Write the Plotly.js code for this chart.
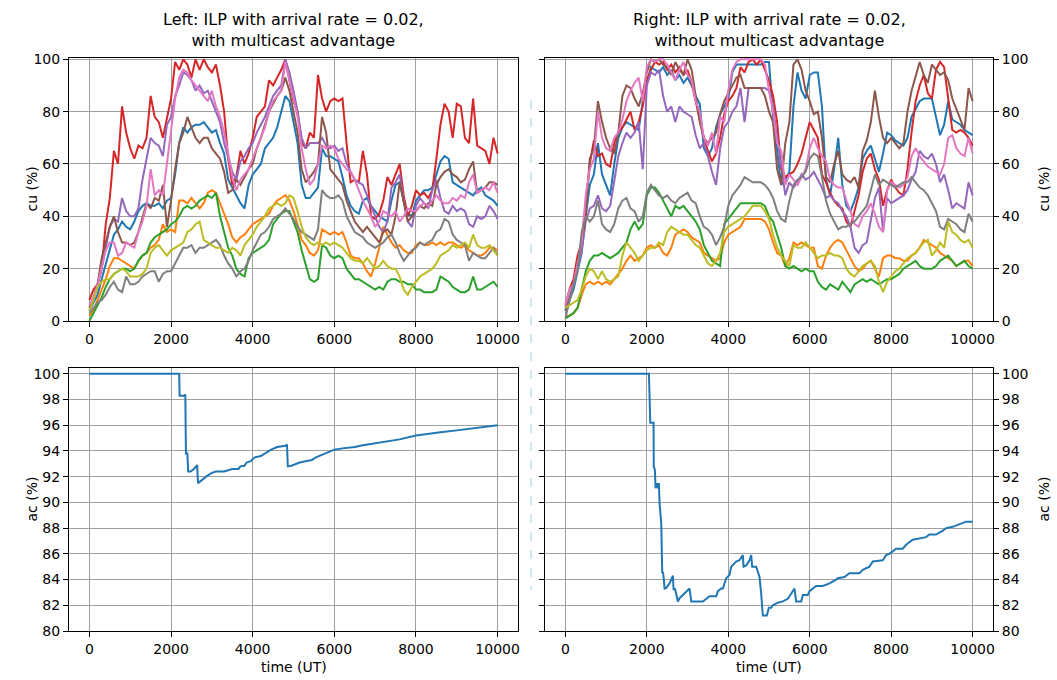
<!DOCTYPE html>
<html>
<head>
<meta charset="utf-8">
<script src="https://cdn.plot.ly/plotly-3.0.1.min.js"></script>
<style>html,body{margin:0;padding:0;background:#fff;}#chart{width:1057px;height:680px;}</style>
</head>
<body>
<div id="chart"></div>
<script>
// ---------- data ----------
const timeUT = [0,100,200,300,400,500,600,700,800,900,1000,1100,1200,1300,1400,1500,1600,1700,1800,1900,
2000,2100,2200,2300,2400,2500,2600,2700,2800,2900,3000,3100,3200,3300,3400,3500,3600,3700,3800,3900,
4000,4100,4200,4300,4400,4500,4600,4700,4800,4900,5000,5100,5200,5300,5400,5500,5600,5700,5800,5900,
6000,6100,6200,6300,6400,6500,6600,6700,6800,6900,7000,7100,7200,7300,7400,7500,7600,7700,7800,7900,
8000,8100,8200,8300,8400,8500,8600,8700,8800,8900,9000,9100,9200,9300,9400,9500,9600,9700,9800,9900,10000];

// Left (with multicast advantage) – link utilisation cu (%)
const leftBlue = [4,7,10,16,22,28,33,35,38,36, 35,38,42,44,45,44,44,45,43,46, 47,56,68,74,72,74,75,75,76,74, 72,73,68,64,54,51,48,45,43,52, 56,58,60,66,68,70,74,80,86,84, 76,68,52,47,47,49,51,66,63,63, 62,61,55,48,44,42,41,46,47,44, 42,40,39,38,46,52,53,46,41,40, 46,48,50,50,51,56,61,63,62,53, 52,51,50,49,48,50,51,48,47,46, 44];
const leftOrange = [2,4,8,12,16,21,24,24,23,22, 21,20,23,25,26,28,29,31,37,34, 35,34,46,46,45,47,45,43,45,49, 50,49,45,41,37,32,30,32,33,35, 37,38,39,40,41,44,46,47,48,46, 42,37,31,29,26,25,27,35,34,33, 34,33,34,30,25,24,24,22,19,17, 22,28,36,33,30,28,29,27,26,26, 29,30,29,29,30,29,30,29,30,30, 29,28,29,27,26,25,25,26,28,28, 27];
const leftGreen = [0,3,6,9,13,16,18,19,20,20, 19,20,23,25,26,30,32,33,34,35, 37,38,40,43,44,43,44,46,47,48, 47,49,40,34,28,25,20,18,17,24, 26,27,28,29,31,37,39,41,42,42, 38,34,27,21,16,15,16,29,28,25, 24,25,24,20,18,16,16,15,14,13, 12,13,12,15,16,16,15,15,14,14, 12,12,11,11,11,12,17,16,15,13, 12,11,11,12,17,12,12,13,14,15, 13];
const leftRed = [8,12,14,20,37,47,65,60,82,72, 66,62,67,66,70,86,78,76,70,78, 85,99,96,100,98,93,100,96,100,97, 95,98,90,80,62,52,55,65,60,64, 70,78,80,82,92,90,93,96,100,92, 84,80,68,66,72,70,94,85,80,84, 85,84,85,68,53,54,53,65,56,40, 39,41,46,55,52,56,60,48,40,44, 50,48,49,47,50,62,75,83,80,70, 83,82,70,68,85,67,66,65,60,70, 64];
const leftPurple = [5,8,14,20,28,36,39,38,47,42, 40,40,43,54,62,70,68,67,63,75, 78,86,90,95,94,92,88,90,87,88, 84,80,76,68,62,57,54,61,63,66, 68,72,75,78,82,86,88,90,100,95, 88,80,70,66,68,68,68,70,67,66, 67,65,66,60,57,54,53,52,48,44, 40,36,34,38,51,53,56,46,38,36, 44,47,45,43,50,54,47,42,41,44, 42,43,42,37,36,40,39,40,44,42, 39];
const leftBrown = [5,9,14,24,30,36,40,34,30,30, 29,30,34,40,45,43,47,46,52,36, 46,58,68,72,78,74,70,68,70,70, 66,64,62,57,49,50,54,52,55,58, 60,66,70,75,80,83,86,88,93,88, 80,72,58,53,55,57,60,78,72,58, 56,54,52,46,42,38,36,34,36,34, 32,30,34,35,33,40,53,46,38,40, 42,44,43,45,44,52,55,57,58,56, 55,53,54,58,61,49,50,51,53,53, 52];
const leftPink = [6,9,14,20,27,30,30,25,26,30, 29,28,34,38,44,58,48,50,48,60, 74,85,93,96,95,92,90,88,86,84, 88,82,78,72,64,55,50,54,56,58, 62,66,70,74,80,84,86,88,99,92, 86,78,66,58,52,54,60,67,66,67, 66,62,60,58,57,54,50,46,43,40, 36,38,42,41,40,42,38,40,43,42, 42,44,45,44,46,48,46,45,45,47, 46,48,47,53,56,49,50,51,50,53, 49];
const leftGray = [3,5,7,8,10,13,15,12,11,17, 14,14,15,17,18,19,19,15,18,19, 19,22,25,28,28,29,26,28,28,29, 30,31,29,25,22,20,17,19,20,23, 27,30,33,34,36,39,40,41,43,41, 39,36,34,33,32,31,35,50,48,47, 47,48,46,40,37,34,33,32,30,29, 28,29,30,32,33,30,26,23,25,27, 28,30,29,30,31,34,35,39,38,33, 31,30,29,23,26,25,24,24,26,28, 25];
const leftOlive = [4,8,13,15,16,16,18,19,20,19, 17,17,17,18,20,26,28,29,27,25, 27,28,29,30,34,35,37,38,31,30, 29,28,28,27,26,28,27,25,29,31, 33,36,38,40,43,44,45,44,45,48, 47,42,36,32,30,29,30,29,30,29, 30,29,28,26,24,23,23,22,24,22, 20,21,23,21,20,20,17,12,10,13, 15,17,18,19,20,22,25,26,27,29, 28,29,30,28,33,29,28,28,29,27, 25];

// Right (without multicast advantage) – link utilisation cu (%)
const rightBlue = [4,8,12,19,26,40,52,56,68,56, 52,48,60,70,74,76,75,74,73,84, 90,97,96,95,97,94,96,92,94,91, 93,90,86,83,66,63,66,74,79,82, 85,95,98,98,98,98,98,98,98,99, 99,78,64,52,54,57,82,95,88,85, 94,95,95,82,54,48,58,70,52,44, 42,46,51,62,65,67,62,57,64,72, 71,69,68,67,70,78,81,84,85,85, 85,78,71,75,84,77,76,75,73,72, 71];
const rightOrange = [2,2,3,5,10,14,15,14,15,14, 15,14,16,18,20,23,25,23,24,25, 28,29,28,29,26,25,28,33,34,35, 34,32,31,30,26,25,24,23,24,30, 33,34,35,36,39,39,39,39,39,38, 35,30,26,25,21,24,30,29,30,29, 28,28,21,20,25,28,30,31,30,27, 24,21,19,20,22,23,20,17,24,25, 25,24,24,23,23,25,26,28,31,30, 29,28,26,25,24,23,21,22,23,23, 21];
const rightGreen = [1,2,3,5,12,19,23,25,25,26, 25,24,25,26,28,30,35,38,35,37, 48,51,51,49,46,43,40,44,43,44, 42,40,38,35,29,26,23,22,21,37, 39,41,43,45,45,45,45,45,45,44, 40,38,33,28,21,20,21,20,19,20, 19,19,15,13,12,14,13,12,15,13, 11,14,15,16,15,16,15,14,15,16, 16,17,18,20,21,22,23,21,20,20, 20,21,23,24,25,23,21,22,23,21, 20];
const rightRed = [6,12,16,25,30,46,60,69,63,64, 60,59,68,72,74,77,80,73,76,82, 92,96,99,98,99,96,98,95,97,94, 96,91,84,76,70,65,61,64,70,79, 84,86,89,97,95,99,100,98,100,96, 92,86,76,58,55,56,57,60,64,70, 76,73,70,56,53,49,46,44,43,38, 36,42,48,57,62,64,58,54,44,50, 54,51,49,48,58,72,84,90,94,87, 85,96,99,97,85,73,72,73,72,70, 67];
const rightPurple = [5,9,14,20,27,38,43,44,48,43, 42,44,53,63,68,72,70,72,76,58, 90,95,94,96,86,80,82,76,82,80, 79,78,71,66,68,63,57,52,66,74, 76,80,82,89,76,89,89,89,89,89, 88,82,70,60,48,53,51,53,56,54, 55,57,54,51,47,48,46,45,42,40, 36,28,26,29,30,38,47,51,34,47, 45,46,47,48,50,54,57,65,63,62, 64,60,53,56,50,43,45,44,43,53, 48];
const rightBrown = [4,8,14,22,30,40,62,66,84,76, 70,66,64,72,86,90,89,85,82,87, 95,100,99,100,98,97,94,99,96,94, 100,96,86,76,70,68,70,72,79,84, 87,90,93,94,89,89,89,89,89,86, 80,76,58,52,68,76,98,100,96,88, 84,79,80,70,55,53,60,65,56,54, 53,55,51,65,69,76,88,78,70,68, 70,68,66,68,80,88,94,99,94,91, 98,96,94,95,92,85,81,77,73,89, 84];
const rightPink = [6,12,14,22,30,48,58,62,80,70, 66,65,70,72,77,84,88,91,93,84, 97,100,99,100,100,98,95,92,96,99, 94,92,84,80,70,67,72,64,78,76, 88,96,99,100,100,100,100,100,100,98, 88,80,68,65,52,56,54,52,55,58, 66,70,66,63,61,54,52,51,51,46, 42,37,36,40,42,45,41,36,34,50, 53,52,51,52,55,63,66,63,61,59, 58,57,56,60,70,71,66,64,63,70, 64];
const rightGray = [1,8,14,19,34,40,38,40,46,37, 35,34,37,43,46,47,43,42,38,40, 49,52,50,48,47,48,46,45,47,48, 49,46,45,40,36,35,33,29,32,36, 44,48,50,52,55,54,53,53,53,52, 50,47,42,39,38,46,52,54,55,57, 62,64,63,55,46,41,38,35,36,36, 37,38,40,42,44,50,56,52,54,53, 52,51,52,53,53,55,53,51,50,48, 45,42,36,35,39,38,37,35,34,41, 38];
const rightOlive = [5,6,7,8,12,17,20,19,16,19, 16,15,16,17,25,30,28,26,23,25, 27,28,28,30,29,34,36,35,34,33, 33,31,29,28,25,22,21,23,26,34, 36,37,38,39,40,42,44,44,44,42, 39,33,28,25,23,21,29,28,28,30, 28,26,24,25,25,26,25,25,24,20, 18,17,19,21,22,23,21,15,11,15, 17,19,20,22,24,25,26,28,30,31, 25,27,30,28,38,34,33,31,30,31, 28];

// Acceptance ac (%)
const leftAcTime = [0,2200,2210,2330,2340,2350,2365,2400,2420,2480,2560,2640,2660,2700,2800,2900,3000,3100,3300,3400,3500,3650,3700,3800,3850,3950,4050,4200,4350,4450,4600,4800,4840,4860,4950,5050,5150,5300,5450,5550,5700,5850,6000,6200,6500,6700,7000,7300,7600,8000,8300,8600,9000,9400,9700,10000];
const leftAc = [100,100,98.3,98.3,98.4,98.3,93.8,93.8,92.4,92.4,92.6,92.9,91.5,91.6,91.9,92.1,92.3,92.4,92.4,92.5,92.6,92.6,92.8,92.85,93.1,93.2,93.5,93.6,93.9,94.1,94.3,94.4,94.5,92.8,92.85,93.0,93.1,93.2,93.3,93.5,93.7,93.9,94.1,94.2,94.3,94.45,94.6,94.7,94.9,95.2,95.3,95.45,95.6,95.75,95.85,96.0];
const rightAcTime = [0,2052,2085,2166,2170,2199,2215,2248,2273,2297,2313,2354,2379,2395,2412,2436,2477,2559,2641,2657,2690,2722,2763,2804,2886,2968,3050,3091,3214,3377,3540,3704,3745,3827,3867,3949,4031,4072,4194,4276,4358,4375,4440,4522,4563,4587,4685,4767,4808,4849,4947,4996,5053,5094,5217,5339,5462,5544,5626,5667,5790,5831,5953,5994,6158,6321,6485,6648,6689,6853,6975,7221,7302,7466,7548,7793,7875,7957,8120,8284,8366,8529,8693,8857,8939,9102,9266,9348,9511,9675,9839,10000];
const rightAc = [100,100,96.2,96.2,92.8,92.5,91.1,91.5,91.1,91.5,89.9,88.4,84.5,84.6,84.2,83.3,83.35,83.7,84.3,83.2,83.3,82.9,82.3,82.55,82.8,83.05,83.3,82.3,82.3,82.3,82.7,82.7,83.1,83.3,83.3,84.1,84.35,85.0,85.4,85.5,85.9,85.0,85.1,85.5,85.9,85.0,85.0,84.2,82.9,81.2,81.2,81.8,81.8,82.0,82.2,82.3,82.5,82.9,83.3,82.3,82.3,82.8,82.8,83.1,83.5,83.5,83.7,84.0,84.1,84.2,84.5,84.5,84.75,85.0,85.4,85.5,85.9,86.0,86.4,86.4,86.7,87.1,87.2,87.3,87.5,87.5,87.8,88.0,88.1,88.3,88.5,88.5];

const xTicks = [0,2000,4000,6000,8000,10000];
const xTickText = ['0','2000','4000','6000','8000','10000'];
const cuTicks = [0,20,40,60,80,100];
const acTicks = [80,82,84,86,88,90,92,94,96,98,100];

const leftTitle = 'Left: ILP with arrival rate = 0.02,<br>with multicast advantage';
const rightTitle = 'Right: ILP with arrival rate = 0.02,<br>without multicast advantage';

// ---------- drawing ----------
const tab10 = ['#1f77b4','#ff7f0e','#2ca02c','#d62728','#9467bd','#8c564b','#e377c2','#7f7f7f','#bcbd22'];
const leftSeries = [leftBlue,leftOrange,leftGreen,leftRed,leftPurple,leftBrown,leftPink,leftGray,leftOlive];
const rightSeries = [rightBlue,rightOrange,rightGreen,rightRed,rightPurple,rightBrown,rightPink,rightGray,rightOlive];

const traces = [];
leftSeries.forEach((s,i)=>traces.push({x:timeUT,y:s,type:'scatter',mode:'lines',xaxis:'x',yaxis:'y',line:{color:tab10[i],width:2},hoverinfo:'skip'}));
rightSeries.forEach((s,i)=>traces.push({x:timeUT,y:s,type:'scatter',mode:'lines',xaxis:'x2',yaxis:'y2',line:{color:tab10[i],width:2},hoverinfo:'skip'}));
traces.push({x:leftAcTime,y:leftAc,type:'scatter',mode:'lines',xaxis:'x3',yaxis:'y3',line:{color:tab10[0],width:2}});
traces.push({x:rightAcTime,y:rightAc,type:'scatter',mode:'lines',xaxis:'x4',yaxis:'y4',line:{color:tab10[0],width:2}});

const W=1057,H=680;
const dxL=[69/W,518/W], dxR=[545/W,993/W];
const dyT=[1-321/H,1-58/H], dyB=[1-631/H,1-368/H];
const FONT='DejaVu Sans';
const ax = (extra)=>Object.assign({
  showgrid:true, gridcolor:'#a0a0a0', gridwidth:1,
  zeroline:false, showline:true, linecolor:'#000', linewidth:1,
  ticks:'outside', ticklen:5, tickwidth:1, tickcolor:'#000',
  tickfont:{family:FONT,size:14,color:'#000'}, fixedrange:true
}, extra);

const layout = {
  width:W, height:H, margin:{l:0,r:0,t:0,b:0},
  paper_bgcolor:'#fff', plot_bgcolor:'#fff', showlegend:false,
  font:{family:FONT,color:'#000'},
  xaxis: ax({domain:dxL, anchor:'y', range:[-500,10500], tickvals:xTicks, ticktext:xTickText, mirror:true}),
  yaxis: ax({domain:dyT, anchor:'x', range:[0,100.5], tickvals:cuTicks, mirror:true}),
  xaxis2: ax({domain:dxR, anchor:'y2', range:[-500,10500], tickvals:xTicks, ticktext:xTickText, mirror:true}),
  yaxis2: ax({domain:dyT, anchor:'x2', range:[0,100.5], tickvals:cuTicks, side:'right', mirror:'ticks'}),
  xaxis3: ax({domain:dxL, anchor:'y3', range:[-500,10500], tickvals:xTicks, ticktext:xTickText, mirror:true}),
  yaxis3: ax({domain:dyB, anchor:'x3', range:[80,100.45], tickvals:acTicks, mirror:true}),
  xaxis4: ax({domain:dxR, anchor:'y4', range:[-500,10500], tickvals:xTicks, ticktext:xTickText, mirror:true}),
  yaxis4: ax({domain:dyB, anchor:'x4', range:[80,100.45], tickvals:acTicks, side:'right', mirror:'ticks'}),
  shapes:[{type:'line', xref:'paper', yref:'paper', x0:531/W, x1:531/W, y0:1-100/H, y1:1-590/H,
           line:{color:'#add8e6', width:1.2, dash:'dash'}}],
  annotations:[
    {text:leftTitle, xref:'paper', yref:'paper', x:(69+518)/2/W, y:1-52/H, xanchor:'center', yanchor:'bottom', showarrow:false, font:{family:FONT,size:16,color:'#000'}},
    {text:rightTitle, xref:'paper', yref:'paper', x:(545+993)/2/W, y:1-52/H, xanchor:'center', yanchor:'bottom', showarrow:false, font:{family:FONT,size:16,color:'#000'}},
    {text:'cu (%)', xref:'paper', yref:'paper', x:31/W, y:1-189.5/H, xanchor:'center', yanchor:'middle', textangle:-90, showarrow:false, font:{family:FONT,size:14,color:'#000'}},
    {text:'ac (%)', xref:'paper', yref:'paper', x:31/W, y:1-499.5/H, xanchor:'center', yanchor:'middle', textangle:-90, showarrow:false, font:{family:FONT,size:14,color:'#000'}},
    {text:'cu (%)', xref:'paper', yref:'paper', x:1043/W, y:1-189.5/H, xanchor:'center', yanchor:'middle', textangle:-90, showarrow:false, font:{family:FONT,size:14,color:'#000'}},
    {text:'ac (%)', xref:'paper', yref:'paper', x:1043/W, y:1-499.5/H, xanchor:'center', yanchor:'middle', textangle:-90, showarrow:false, font:{family:FONT,size:14,color:'#000'}},
    {text:'time (UT)', xref:'paper', yref:'paper', x:(69+518)/2/W, y:1-667/H, xanchor:'center', yanchor:'middle', showarrow:false, font:{family:FONT,size:14,color:'#000'}},
    {text:'time (UT)', xref:'paper', yref:'paper', x:(545+993)/2/W, y:1-667/H, xanchor:'center', yanchor:'middle', showarrow:false, font:{family:FONT,size:14,color:'#000'}}
  ]
};

Plotly.newPlot('chart', traces, layout, {staticPlot:true, displayModeBar:false});
</script>
</body>
</html>
